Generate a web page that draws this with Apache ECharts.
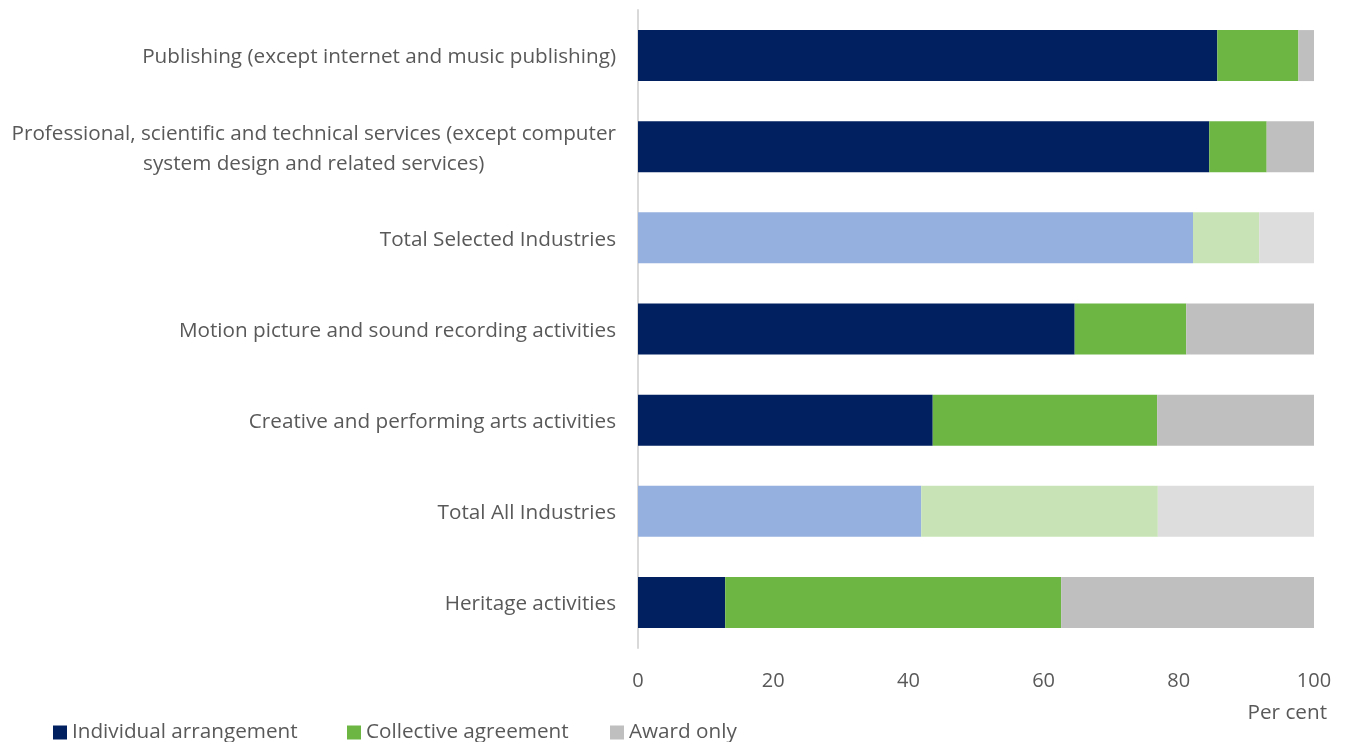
<!DOCTYPE html>
<html><head><meta charset="utf-8">
<script src="https://cdn.jsdelivr.net/npm/echarts@6/dist/echarts.min.js"></script>
<style>html,body{margin:0;padding:0;background:#fff}#c{width:1348px;height:742px}</style>
</head><body><div id="c"></div>
<script>
const categories = [
  'Publishing (except internet and music publishing)',
  'Professional, scientific and technical services (except computer\nsystem design and related services)',
  'Total Selected Industries',
  'Motion picture and sound recording activities',
  'Creative and performing arts activities',
  'Total All Industries',
  'Heritage activities'
];
const individual = [85.7, 84.5, 82.1, 64.6, 43.6, 41.9, 12.9];
const collective = [12.0, 8.5, 9.8, 16.5, 33.2, 35.0, 49.7];
const awardOnly  = [2.3, 7.0, 8.1, 18.9, 23.2, 23.1, 37.4];
const totalRows = ['Total Selected Industries', 'Total All Industries'];
const xTicks = [0, 20, 40, 60, 80, 100];

const baseColors = ['#002060', '#6DB644', '#BFBFBF'];
const lightColors = ['#95B0DF', '#C8E4B6', '#DDDDDD'];
const names = ['Individual arrangement', 'Collective agreement', 'Award only'];
const values = [individual, collective, awardOnly];
const legendLeft = [53, 347, 610];

const txt = '#595959';
const font = 'Open Sans';
const fs = 20.7;

const series = values.map((arr, si) => ({
  name: names[si],
  type: 'bar',
  stack: 'total',
  barWidth: 51,
  itemStyle: { color: baseColors[si] },
  data: arr.map((v, i) => totalRows.includes(categories[i])
    ? { value: v, itemStyle: { color: lightColors[si] } }
    : v)
}));

const legends = names.map((n, i) => ({
  left: legendLeft[i], top: 722, itemWidth: 14, itemHeight: 14,
  padding: 0, icon: 'rect', itemGap: 0,
  textStyle: { color: txt, fontSize: fs, fontFamily: font },
  data: [n]
}));

const chart = echarts.init(document.getElementById('c'), null, { renderer: 'canvas' });
chart.setOption({
  animation: false,
  textStyle: { fontFamily: font },
  grid: { left: 638, right: 34, top: 10, bottom: 94, containLabel: false },
  legend: legends,
  xAxis: {
    type: 'value', min: 0, max: 100, interval: 20,
    name: 'Per cent', nameLocation: 'end',
    nameGap: 0,
    nameTextStyle: { color: txt, fontSize: fs, fontFamily: font, align: 'right', verticalAlign: 'top', padding: [55, -13, 0, 0] },
    axisLine: { show: false },
    axisTick: { show: false },
    splitLine: { show: false },
    axisLabel: { color: txt, fontSize: 20, fontFamily: font, margin: 23,
      formatter: v => xTicks.includes(v) ? String(v) : '' }
  },
  yAxis: {
    type: 'category', data: categories, inverse: true,
    axisLine: { show: true, lineStyle: { color: '#D9D9D9', width: 2 } },
    axisTick: { show: false },
    axisLabel: {
      color: txt, fontSize: fs, fontFamily: font, margin: 22, lineHeight: 30,
      padding: [4, 0, 0, 0],
      formatter: v => v.split('\n').map(l => '{c|' + l + '}').join('\n'),
      rich: { c: { align: 'center', color: txt, fontSize: fs, fontFamily: font, lineHeight: 30 } }
    }
  },
  series: series
});
</script>
</body></html>
